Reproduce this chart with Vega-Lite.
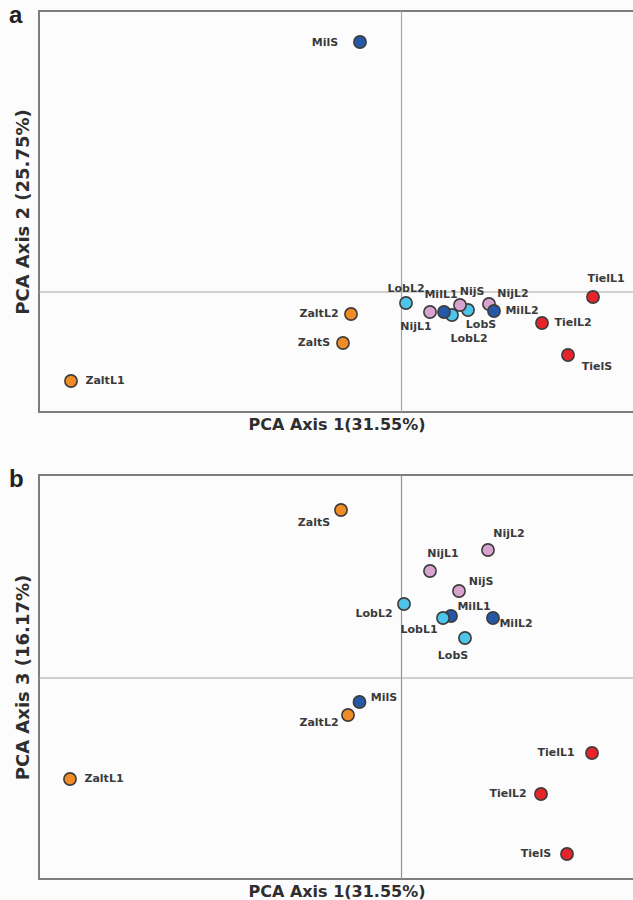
{
  "$schema": "https://vega.github.io/schema/vega-lite/v6.json",
  "background": "#fcfcfc",
  "padding": {"left": 8, "top": 3, "right": 0, "bottom": 0},
  "spacing": 34,
  "datasets": {
    "a": [
      {"sample": "LobL2", "site": "Lob", "pc1": 0.505, "pc2": -0.23, "lx": 0.675, "ly": -0.47},
      {"sample": "LobS", "site": "Lob", "pc1": 0.665, "pc2": -0.18, "lx": 0.795, "ly": -0.33},
      {"sample": "NijL1", "site": "Nij", "pc1": 0.285, "pc2": -0.20, "lx": 0.145, "ly": -0.35},
      {"sample": "NijS", "site": "Nij", "pc1": 0.585, "pc2": -0.13, "lx": 0.705, "ly": 0.00},
      {"sample": "NijL2", "site": "Nij", "pc1": 0.875, "pc2": -0.12, "lx": 1.115, "ly": -0.02},
      {"sample": "MilL1", "site": "Mil", "pc1": 0.425, "pc2": -0.20, "lx": 0.395, "ly": -0.03},
      {"sample": "MilL2", "site": "Mil", "pc1": 0.925, "pc2": -0.19, "lx": 1.205, "ly": -0.19},
      {"sample": "LobL2", "site": "Lob", "pc1": 0.045, "pc2": -0.11, "lx": 0.045, "ly": 0.03},
      {"sample": "MilS", "site": "Mil", "pc1": -0.415, "pc2": 2.50, "lx": -0.765, "ly": 2.49},
      {"sample": "TielL1", "site": "Tiel", "pc1": 1.915, "pc2": -0.05, "lx": 2.045, "ly": 0.13},
      {"sample": "TielL2", "site": "Tiel", "pc1": 1.405, "pc2": -0.31, "lx": 1.715, "ly": -0.31},
      {"sample": "TielS", "site": "Tiel", "pc1": 1.665, "pc2": -0.63, "lx": 1.955, "ly": -0.75},
      {"sample": "ZaltL2", "site": "Zalt", "pc1": -0.505, "pc2": -0.22, "lx": -0.825, "ly": -0.22},
      {"sample": "ZaltS", "site": "Zalt", "pc1": -0.585, "pc2": -0.51, "lx": -0.875, "ly": -0.51},
      {"sample": "ZaltL1", "site": "Zalt", "pc1": -3.305, "pc2": -0.89, "lx": -2.965, "ly": -0.89}
    ],
    "b": [
      {"sample": "ZaltS", "site": "Zalt", "pc1": -0.605, "pc3": 1.68, "lx": -0.875, "ly": 1.55},
      {"sample": "NijL2", "site": "Nij", "pc1": 0.865, "pc3": 1.28, "lx": 1.075, "ly": 1.44},
      {"sample": "NijL1", "site": "Nij", "pc1": 0.285, "pc3": 1.07, "lx": 0.415, "ly": 1.24},
      {"sample": "NijS", "site": "Nij", "pc1": 0.575, "pc3": 0.87, "lx": 0.795, "ly": 0.96},
      {"sample": "LobL2", "site": "Lob", "pc1": 0.025, "pc3": 0.74, "lx": -0.275, "ly": 0.64},
      {"sample": "MilL1", "site": "Mil", "pc1": 0.495, "pc3": 0.62, "lx": 0.725, "ly": 0.71},
      {"sample": "LobL1", "site": "Lob", "pc1": 0.415, "pc3": 0.60, "lx": 0.175, "ly": 0.48},
      {"sample": "MilL2", "site": "Mil", "pc1": 0.915, "pc3": 0.60, "lx": 1.145, "ly": 0.54},
      {"sample": "LobS", "site": "Lob", "pc1": 0.635, "pc3": 0.40, "lx": 0.515, "ly": 0.22},
      {"sample": "ZaltL2", "site": "Zalt", "pc1": -0.535, "pc3": -0.37, "lx": -0.825, "ly": -0.45},
      {"sample": "MilS", "site": "Mil", "pc1": -0.42, "pc3": -0.24, "lx": -0.175, "ly": -0.20},
      {"sample": "TielL1", "site": "Tiel", "pc1": 1.905, "pc3": -0.75, "lx": 1.545, "ly": -0.75},
      {"sample": "ZaltL1", "site": "Zalt", "pc1": -3.315, "pc3": -1.01, "lx": -2.975, "ly": -1.01},
      {"sample": "TielL2", "site": "Tiel", "pc1": 1.395, "pc3": -1.16, "lx": 1.065, "ly": -1.16},
      {"sample": "TielS", "site": "Tiel", "pc1": 1.655, "pc3": -1.76, "lx": 1.345, "ly": -1.76}
    ]
  },
  "config": {
    "view": {"stroke": "#7d7d7d", "strokeWidth": 2, "fill": "#fcfcfd"},
    "axis": {"grid": false, "ticks": false, "labels": false, "domain": false, "titleFont": "DejaVu Sans", "titleFontWeight": "bold", "titleColor": "#2e2e2e"},
    "axisX": {"titleFontSize": 16, "titlePadding": 4},
    "axisY": {"titleFontSize": 18, "titlePadding": 7},
    "title": {"font": "Liberation Sans", "fontWeight": "bold", "fontSize": 24, "color": "#222", "anchor": "start", "frame": "bounds", "offset": -18, "dx": -5},
    "text": {"font": "DejaVu Sans", "fontWeight": "bold", "fontSize": 11, "color": "#3a3a3a"}
  },
  "vconcat": [
    {
      "width": 595,
      "height": 401,
      "title": {"text": "a"},
      "layer": [
        {
          "data": {"values": [{}]},
          "mark": {"type": "rule", "color": "#aaa59e", "strokeWidth": 1.2},
          "encoding": {"x": {"datum": 0, "type": "quantitative", "scale": {"domain": [-3.625, 2.325], "nice": false, "zero": false}, "title": "PCA Axis 1(31.55%)"}}
        },
        {
          "data": {"values": [{}]},
          "mark": {"type": "rule", "color": "#aaa59e", "strokeWidth": 1.2},
          "encoding": {"y": {"datum": 0, "type": "quantitative", "scale": {"domain": [-1.20, 2.81], "nice": false, "zero": false}, "title": "PCA Axis 2 (25.75%)"}}
        },
        {
          "data": {"name": "a"},
          "mark": {"type": "point", "filled": true, "size": 150, "stroke": "#3c3c3c", "strokeWidth": 1.6, "opacity": 1},
          "encoding": {
            "x": {"field": "pc1", "type": "quantitative", "scale": {"domain": [-3.625, 2.325], "nice": false, "zero": false}, "title": "PCA Axis 1(31.55%)"},
            "y": {"field": "pc2", "type": "quantitative", "scale": {"domain": [-1.20, 2.81], "nice": false, "zero": false}, "title": "PCA Axis 2 (25.75%)"},
            "fill": {"field": "site", "type": "nominal", "scale": {"domain": ["Zalt", "Mil", "Lob", "Nij", "Tiel"], "range": ["#f18b25", "#2658a8", "#4ec4e8", "#d9a3cf", "#e8242b"]}, "legend": null},
            "stroke": {"value": "#3c3c3c"}
          }
        },
        {
          "data": {"name": "a"},
          "mark": {"type": "text", "align": "center", "baseline": "middle"},
          "encoding": {
            "x": {"field": "lx", "type": "quantitative", "scale": {"domain": [-3.625, 2.325], "nice": false, "zero": false}, "title": "PCA Axis 1(31.55%)"},
            "y": {"field": "ly", "type": "quantitative", "scale": {"domain": [-1.20, 2.81], "nice": false, "zero": false}, "title": "PCA Axis 2 (25.75%)"},
            "text": {"field": "sample"}
          }
        }
      ]
    },
    {
      "width": 595,
      "height": 404,
      "title": {"text": "b"},
      "layer": [
        {
          "data": {"values": [{}]},
          "mark": {"type": "rule", "color": "#8494ad", "strokeWidth": 1.2},
          "encoding": {"x": {"datum": 0, "type": "quantitative", "scale": {"domain": [-3.625, 2.325], "nice": false, "zero": false}, "title": "PCA Axis 1(31.55%)"}}
        },
        {
          "data": {"values": [{}]},
          "mark": {"type": "rule", "color": "#a4a4aa", "strokeWidth": 1.2},
          "encoding": {"y": {"datum": 0, "type": "quantitative", "scale": {"domain": [-2.01, 2.03], "nice": false, "zero": false}, "title": "PCA Axis 3 (16.17%)"}}
        },
        {
          "data": {"name": "b"},
          "mark": {"type": "point", "filled": true, "size": 150, "stroke": "#3c3c3c", "strokeWidth": 1.6, "opacity": 1},
          "encoding": {
            "x": {"field": "pc1", "type": "quantitative", "scale": {"domain": [-3.625, 2.325], "nice": false, "zero": false}, "title": "PCA Axis 1(31.55%)"},
            "y": {"field": "pc3", "type": "quantitative", "scale": {"domain": [-2.01, 2.03], "nice": false, "zero": false}, "title": "PCA Axis 3 (16.17%)"},
            "fill": {"field": "site", "type": "nominal", "scale": {"domain": ["Zalt", "Mil", "Lob", "Nij", "Tiel"], "range": ["#f18b25", "#2658a8", "#4ec4e8", "#d9a3cf", "#e8242b"]}, "legend": null},
            "stroke": {"value": "#3c3c3c"}
          }
        },
        {
          "data": {"name": "b"},
          "mark": {"type": "text", "align": "center", "baseline": "middle"},
          "encoding": {
            "x": {"field": "lx", "type": "quantitative", "scale": {"domain": [-3.625, 2.325], "nice": false, "zero": false}, "title": "PCA Axis 1(31.55%)"},
            "y": {"field": "ly", "type": "quantitative", "scale": {"domain": [-2.01, 2.03], "nice": false, "zero": false}, "title": "PCA Axis 3 (16.17%)"},
            "text": {"field": "sample"}
          }
        }
      ]
    }
  ]
}
